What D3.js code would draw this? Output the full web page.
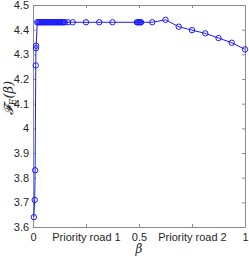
<!DOCTYPE html>
<html>
<head>
<meta charset="utf-8">
<script src="https://cdn.jsdelivr.net/npm/d3@7"></script>
<style>
  body { margin: 0; background: #fff; }
  svg { font-family: "Liberation Sans", Arial, sans-serif; }
  .axis text { font-size: 11px; fill: #262626; }
  .axis path, .axis line { stroke: #8c8c8c; }
</style>
</head>
<body>
<div id="chart"></div>
<script>
// beta values and F_E(beta)
const beta = [0.004, 0.008, 0.010, 0.013, 0.014, 0.015,
  0.020, 0.025, 0.030, 0.035, 0.040, 0.045, 0.050, 0.055, 0.060, 0.065,
  0.070, 0.075, 0.080, 0.085, 0.090, 0.095, 0.100, 0.105, 0.110, 0.115,
  0.120, 0.125, 0.130, 0.135, 0.140, 0.145, 0.150, 0.165, 0.1875,
  0.25, 0.3125, 0.375, 0.490, 0.495, 0.500, 0.505, 0.510,
  0.5625, 0.625, 0.6875, 0.75, 0.8125, 0.875, 0.9375, 1.0];
const fe = [3.64, 3.71, 3.83, 4.255, 4.325, 4.335,
  4.43, 4.43, 4.43, 4.43, 4.43, 4.43, 4.43, 4.43, 4.43, 4.43,
  4.43, 4.43, 4.43, 4.43, 4.43, 4.43, 4.43, 4.43, 4.43, 4.43,
  4.43, 4.43, 4.43, 4.43, 4.43, 4.43, 4.43, 4.43, 4.43,
  4.43, 4.43, 4.43, 4.43, 4.43, 4.43, 4.43, 4.43,
  4.43, 4.44, 4.412, 4.398, 4.385, 4.366, 4.347, 4.32];

const xTicks = [0, 0.25, 0.5, 0.75, 1];
const xTickLabels = ["0", "Priority road 1", "0.5", "Priority road 2", "1"];
const yTicks = [3.6, 3.7, 3.8, 3.9, 4.0, 4.1, 4.2, 4.3, 4.4, 4.5];

const W = 249, H = 256;
const margin = { top: 5, right: 4, bottom: 29, left: 33 };
const width = W - margin.left - margin.right;
const height = H - margin.top - margin.bottom;

const svg = d3.select("#chart").append("svg")
  .attr("width", W)
  .attr("height", H);

const g = svg.append("g").attr("transform", `translate(${margin.left},${margin.top})`);
const x = d3.scaleLinear().domain([0, 1]).range([0, width]);
const y = d3.scaleLinear().domain([3.6, 4.5]).range([height, 0]);

const xLabel = d => xTickLabels[xTicks.indexOf(d)];
const yLabel = d => String(+d.toFixed(1));

g.append("g").attr("class", "axis")
  .attr("transform", `translate(0,${height})`)
  .call(d3.axisBottom(x).tickValues(xTicks).tickFormat(xLabel).tickSizeInner(-3).tickSizeOuter(0).tickPadding(6));
g.append("g").attr("class", "axis")
  .call(d3.axisTop(x).tickValues(xTicks).tickFormat("").tickSizeInner(-3).tickSizeOuter(0));
g.append("g").attr("class", "axis")
  .call(d3.axisLeft(y).tickValues(yTicks).tickFormat(yLabel).tickSizeInner(-3).tickSizeOuter(0).tickPadding(4));
g.append("g").attr("class", "axis")
  .attr("transform", `translate(${width},0)`)
  .call(d3.axisRight(y).tickValues(yTicks).tickFormat("").tickSizeInner(-3).tickSizeOuter(0));

const pts = beta.map((b, i) => ({ b: b, v: fe[i] }));
const line = d3.line().x(d => x(d.b)).y(d => y(d.v));

g.append("path")
  .attr("d", line(pts))
  .attr("fill", "none")
  .attr("stroke", "#1a1aff")
  .attr("stroke-width", 1);

g.selectAll(".pt")
  .data(pts)
  .enter().append("circle")
  .attr("class", "pt")
  .attr("cx", d => x(d.b))
  .attr("cy", d => y(d.v))
  .attr("r", 2.7)
  .attr("fill", "none")
  .attr("stroke", "#1a1aff")
  .attr("stroke-width", 1);

// axis labels
svg.append("text")
  .attr("x", margin.left + width / 2)
  .attr("y", H - 3)
  .attr("text-anchor", "middle")
  .style("font-family", "'DejaVu Serif', serif")
  .style("font-style", "italic")
  .style("font-size", "12px")
  .attr("fill", "#262626")
  .text("β");

const yl = svg.append("text")
  .attr("transform", `translate(13,${margin.top + 93}) rotate(-90)`)
  .attr("text-anchor", "middle")
  .style("font-family", "'DejaVu Serif', serif")
  .style("font-style", "italic")
  .style("font-size", "13px")
  .attr("fill", "#262626");
yl.append("tspan").text("𝓕");
yl.append("tspan").attr("dy", 3).style("font-size", "9px").text("E");
yl.append("tspan").attr("dy", -3).text("(β)");
</script>
</body>
</html>
